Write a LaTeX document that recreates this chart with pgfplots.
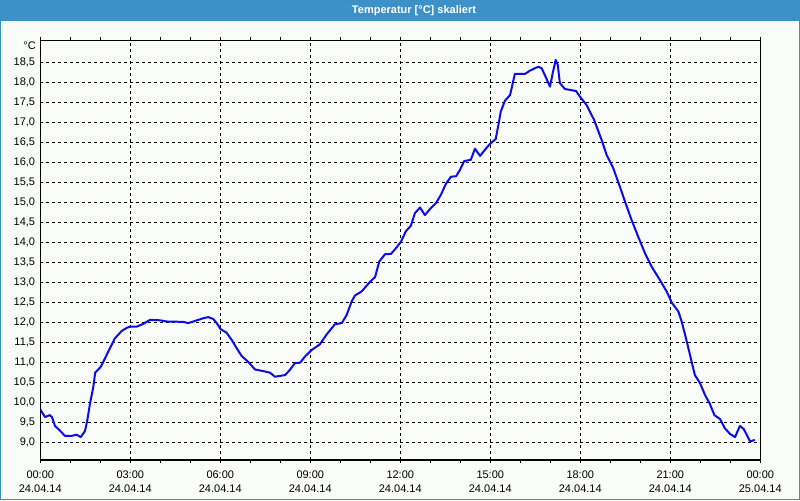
\documentclass[border=0pt]{standalone}
\usepackage{fontspec}
\setmainfont{Liberation Sans}
\usepackage{pgfplots}
\pgfplotsset{compat=1.18}
\definecolor{bg}{RGB}{250,252,250}
\definecolor{titlebar}{RGB}{61,145,201}
\definecolor{curve}{RGB}{12,12,235}
\begin{document}
\begin{tikzpicture}
\fill[bg] (0,0) rectangle (600pt,375pt);
\fill[titlebar] (0,359.5pt) rectangle (600pt,375pt);
\draw[titlebar, line width=0.9pt] (0.45pt,0.45pt) rectangle (599.55pt,374.55pt);
\node[text=white, inner sep=0pt, font=\bfseries\fontsize{8.25}{10}\selectfont] at (310.5pt,367.3pt) {Temperatur [°C] skaliert};
\node[anchor=east, inner sep=0pt, font=\fontsize{8.25}{10}\selectfont] at (27pt,341pt) {°C};
\begin{axis}[
  at={(30.2pt,30pt)}, anchor=south west,
  scale only axis, width=540pt, height=314.5pt,
  xmin=0, xmax=24, ymin=8.5575, ymax=19.04,
  axis line style={line width=0.75pt, black},
  xtick={0,3,6,9,12,15,18,21,24},
  xticklabels={{00:00\\24.04.14},{03:00\\24.04.14},{06:00\\24.04.14},{09:00\\24.04.14},{12:00\\24.04.14},{15:00\\24.04.14},{18:00\\24.04.14},{21:00\\24.04.14},{00:00\\25.04.14}},
  minor xtick={1,2,4,5,7,8,10,11,13,14,16,17,19,20,22,23},
  ytick={9,9.5,10,10.5,11,11.5,12,12.5,13,13.5,14,14.5,15,15.5,16,16.5,17,17.5,18,18.5},
  xmajorgrids, ymajorgrids,
  major grid style={black, line width=0.75pt, dash pattern=on 2.25pt off 2.25pt},
  tick align=outside,
  major tick length=2.4pt, minor tick length=2.4pt,
  tick style={black, line width=0.75pt},
  ytick style={draw=none},
  ticklabel style={font=\fontsize{8.25}{10.3}\selectfont},
  xticklabel style={align=center, inner sep=0pt, yshift=-5.5pt},
  yticklabel style={inner sep=0pt, xshift=-1.3pt},
  /pgf/number format/assume math mode=true,
  yticklabel={\pgfmathprintnumber[fixed, fixed zerofill, precision=1, use comma]{\tick}},
]
\addplot[curve, line width=1.5pt, line join=round] table {
x y
0.00 9.82
0.16 9.63
0.32 9.68
0.39 9.63
0.49 9.41
0.66 9.29
0.82 9.16
1.05 9.16
1.21 9.19
1.35 9.13
1.49 9.28
1.57 9.56
1.66 9.98
1.77 10.39
1.83 10.74
2.02 10.89
2.21 11.18
2.49 11.60
2.71 11.78
2.88 11.86
2.99 11.89
3.21 11.89
3.43 11.96
3.66 12.06
3.99 12.05
4.21 12.02
4.77 12.01
4.93 11.98
5.10 12.02
5.43 12.10
5.60 12.13
5.77 12.08
5.88 11.98
6.01 11.83
6.21 11.74
6.38 11.56
6.55 11.35
6.71 11.16
6.93 11.01
7.16 10.82
7.43 10.78
7.66 10.74
7.82 10.64
8.16 10.68
8.32 10.81
8.49 10.98
8.66 10.99
8.82 11.14
9.05 11.31
9.32 11.45
9.55 11.70
9.82 11.95
10.05 11.98
10.21 12.18
10.38 12.52
10.49 12.67
10.71 12.77
10.99 13.01
11.16 13.13
11.30 13.52
11.49 13.70
11.69 13.71
11.82 13.82
12.02 14.01
12.19 14.28
12.35 14.41
12.49 14.73
12.66 14.87
12.82 14.68
12.99 14.83
13.19 14.98
13.35 15.18
13.52 15.46
13.69 15.64
13.86 15.65
13.99 15.81
14.13 16.03
14.35 16.06
14.49 16.34
14.66 16.16
14.82 16.31
14.99 16.46
15.18 16.58
15.27 16.93
15.35 17.27
15.49 17.54
15.66 17.68
15.82 18.21
16.16 18.21
16.32 18.29
16.60 18.39
16.71 18.35
16.82 18.18
16.99 17.89
17.08 18.22
17.18 18.56
17.25 18.43
17.32 17.98
17.49 17.83
17.66 17.81
17.86 17.78
17.99 17.64
18.21 17.43
18.46 17.06
18.71 16.56
18.88 16.18
19.10 15.85
19.32 15.39
19.55 14.89
19.71 14.56
19.93 14.14
20.16 13.72
20.38 13.39
20.66 13.05
20.88 12.77
21.05 12.49
21.27 12.27
21.38 12.02
21.55 11.52
21.71 11.02
21.82 10.68
21.99 10.48
22.16 10.18
22.32 9.96
22.47 9.68
22.66 9.58
22.82 9.35
22.99 9.21
23.16 9.13
23.32 9.41
23.45 9.33
23.66 9.02
23.82 9.06
};
\end{axis}
\end{tikzpicture}
\end{document}
